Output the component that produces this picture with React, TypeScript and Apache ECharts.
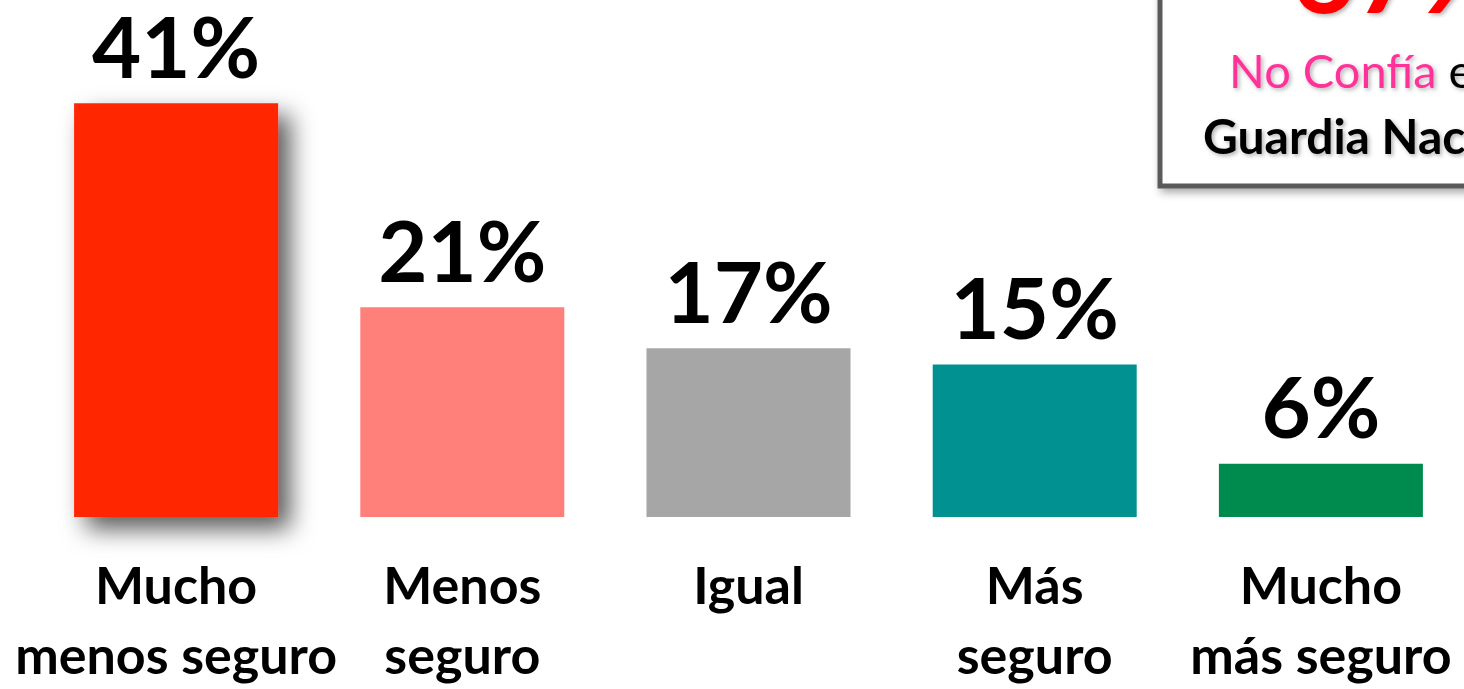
import React, { useEffect, useRef } from "react";
import * as echarts from "echarts";

const categories = [
  "Mucho\nmenos seguro",
  "Menos\nseguro",
  "Igual",
  "Más\nseguro",
  "Mucho\nmás seguro",
];
const values = [41.2, 20.9, 16.8, 15.2, 5.3];
const valueLabels = ["41%", "21%", "17%", "15%", "6%"];
const barColors = ["#FF2600", "#FF7F7A", "#A6A6A6", "#009190", "#008B4E"];
const boxBigText = "67%";
const boxLine1Pink = "No Confía";
const boxLine1Rest = " en la";
const boxLine2 = "Guardia Nacional";

const FONT = "Lato, 'Noto Sans', sans-serif";

export default function App() {
  const ref = useRef<HTMLDivElement>(null);
  useEffect(() => {
    if (!ref.current) return;
    const chart = echarts.init(ref.current, undefined, { renderer: "svg" });
    const txtShadow = {
      textShadowColor: "rgba(0,0,0,0.3)",
      textShadowBlur: 4,
      textShadowOffsetX: 2,
      textShadowOffsetY: 2,
    };
    chart.setOption({
      animation: false,
      backgroundColor: "#ffffff",
      grid: { left: 33, width: 1432, top: 15, height: 511 },
      xAxis: {
        type: "category",
        data: categories,
        axisLine: { show: false },
        axisTick: { show: false },
        axisLabel: {
          interval: 0,
          margin: 32,
          color: "#000",
          fontFamily: FONT,
          fontWeight: "bold",
          fontSize: 52,
          lineHeight: 70,
        },
      },
      yAxis: { type: "value", min: 0, max: 50, show: false, splitLine: { show: false } },
      series: [
        {
          type: "bar",
          barWidth: 204,
          data: values.map((v, i) => ({
            value: v,
            itemStyle:
              i === 0
                ? {
                    color: barColors[i],
                    shadowColor: "rgba(0,0,0,0.65)",
                    shadowBlur: 24,
                    shadowOffsetX: 12,
                    shadowOffsetY: 12,
                  }
                : { color: barColors[i] },
          })),
          label: {
            show: true,
            position: "top",
            distance: 16,
            formatter: (p: any) => valueLabels[p.dataIndex],
            color: "#000",
            fontFamily: FONT,
            fontWeight: "bold",
            fontSize: 85,
          },
        },
      ],
      graphic: [
        {
          type: "rect",
          shape: { x: 1160, y: -30, width: 420, height: 216 },
          style: {
            fill: "#ffffff",
            stroke: "#5a5a5a",
            lineWidth: 5,
            shadowColor: "rgba(0,0,0,0.35)",
            shadowBlur: 8,
            shadowOffsetX: 3,
            shadowOffsetY: 4,
          },
        },
        {
          type: "text",
          x: 1292,
          y: -30,
          style: {
            text: boxBigText,
            fill: "#FF0000",
            fontFamily: FONT,
            fontWeight: "bold",
            fontSize: 110,
            verticalAlign: "middle",
            align: "left",
            ...txtShadow,
          },
        },
        {
          type: "text",
          x: 1229,
          y: 70,
          style: {
            rich: {
              p: { fill: "#FF3399", fontFamily: FONT, fontSize: 47, ...txtShadow },
              k: { fill: "#000000", fontFamily: FONT, fontSize: 47, ...txtShadow },
            },
            text: "{p|" + boxLine1Pink + "}{k|" + boxLine1Rest + "}",
            verticalAlign: "middle",
            align: "left",
          },
        },
        {
          type: "text",
          x: 1203,
          y: 135,
          style: {
            text: boxLine2,
            fill: "#000000",
            fontFamily: FONT,
            fontWeight: "bold",
            fontSize: 48,
            verticalAlign: "middle",
            align: "left",
            ...txtShadow,
          },
        },
      ],
    });
    return () => chart.dispose();
  }, []);
  return (
    <div
      ref={ref}
      style={{ position: "absolute", left: 0, top: 0, width: 1464, height: 689 }}
    />
  );
}
